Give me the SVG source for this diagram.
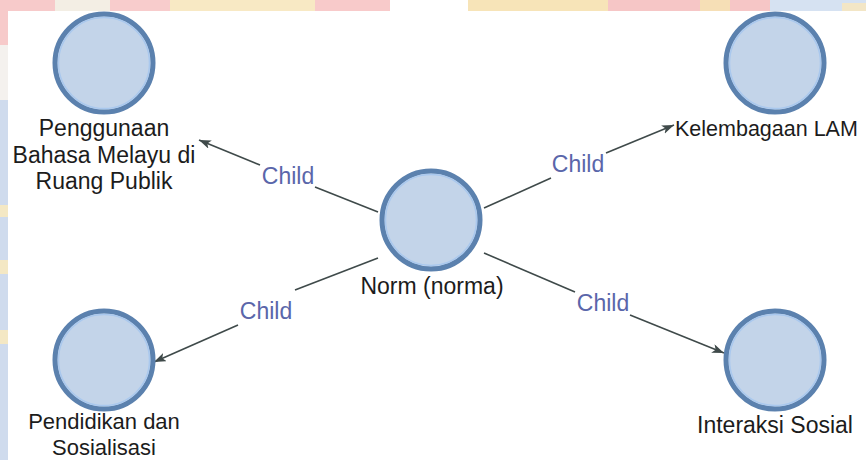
<svg xmlns="http://www.w3.org/2000/svg" width="866" height="460" viewBox="0 0 866 460">
<style>
.node-ring{fill:#c3d4e9;stroke:#5b81ae;stroke-width:5}
.node-inner{fill:none;stroke:#a9c8ee;stroke-width:1.5}
.lbl{font-family:"Liberation Sans",Arial,sans-serif;font-size:23px;fill:#1c1c1c;text-anchor:middle}
.edge{stroke:#3f4a4a;stroke-width:1.6;fill:none}
.elbl{font-family:"Liberation Sans",Arial,sans-serif;font-size:23px;fill:#5a66aa;text-anchor:middle}
</style>
<defs>
<marker id="arr" markerUnits="userSpaceOnUse" markerWidth="14" markerHeight="10" refX="12" refY="4.5" orient="auto">
<path d="M0,0 L12,4.5 L0,9 L3,4.5 z" fill="#3f4a4a"/>
</marker>
</defs>
<rect width="866" height="460" fill="#ffffff"/>
<g id="watermark">
<rect x="0" y="0" width="55" height="11" fill="#f7caca"/>
<rect x="55" y="0" width="55" height="11" fill="#f3eee4"/>
<rect x="110" y="0" width="60" height="11" fill="#f8cccc"/>
<rect x="170" y="0" width="145" height="11" fill="#f8e9c4"/>
<rect x="315" y="0" width="75" height="11" fill="#f8caca"/>
<rect x="468" y="0" width="140" height="11" fill="#f7e4b8"/>
<rect x="608" y="0" width="162" height="11" fill="#f6c6c6"/>
<rect x="700" y="0" width="30" height="11" fill="#f6dfb6"/>
<rect x="770" y="0" width="96" height="11" fill="#d6e2f2"/>
<rect x="842" y="3" width="24" height="8" fill="#f3e6c6"/>
<rect x="0" y="0" width="8" height="45" fill="#f7caca"/>
<rect x="0" y="45" width="8" height="55" fill="#f4f1ee"/>
<rect x="0" y="100" width="8" height="360" fill="#cfdbed"/>
<rect x="0" y="205" width="8" height="12" fill="#f4e8c4"/>
<rect x="0" y="260" width="8" height="14" fill="#f4e8c4"/>
<rect x="0" y="330" width="8" height="14" fill="#f4e8c4"/>
</g>
<g id="connectors">
<line class="edge" x1="378" y1="212" x2="315" y2="187"/>
<line class="edge" x1="260" y1="165" x2="199" y2="140" marker-end="url(#arr)"/>
<text class="elbl" x="288" y="184">Child</text>
<line class="edge" x1="484" y1="208" x2="551" y2="178"/>
<line class="edge" x1="606" y1="153" x2="674" y2="125" marker-end="url(#arr)"/>
<text class="elbl" x="578" y="172">Child</text>
<line class="edge" x1="378" y1="258" x2="295" y2="290"/>
<line class="edge" x1="238" y1="325" x2="154" y2="362" marker-end="url(#arr)"/>
<text class="elbl" x="266" y="319">Child</text>
<line class="edge" x1="484" y1="253" x2="575" y2="292"/>
<line class="edge" x1="630" y1="315" x2="724" y2="353" marker-end="url(#arr)"/>
<text class="elbl" x="603" y="311">Child</text>
</g>
<g id="node-penggunaan">
<circle class="node-ring" cx="104" cy="63" r="49"/>
<circle class="node-inner" cx="104" cy="63" r="45.5"/>
<text class="lbl" x="104" y="136">Penggunaan</text>
<text class="lbl" x="104" y="163">Bahasa Melayu di</text>
<text class="lbl" x="104" y="189">Ruang Publik</text>
</g>
<g id="node-kelembagaan">
<circle class="node-ring" cx="775" cy="63" r="49"/>
<circle class="node-inner" cx="775" cy="63" r="45.5"/>
<text class="lbl" x="675" y="136" style="text-anchor:start;font-size:21.5px">Kelembagaan LAM</text>
</g>
<g id="node-norm">
<circle class="node-ring" cx="431" cy="220" r="49"/>
<circle class="node-inner" cx="431" cy="220" r="45.5"/>
<text class="lbl" x="432" y="294">Norm (norma)</text>
</g>
<g id="node-pendidikan">
<circle class="node-ring" cx="104" cy="360" r="49"/>
<circle class="node-inner" cx="104" cy="360" r="45.5"/>
<text class="lbl" x="104" y="429" style="font-size:22px">Pendidikan dan</text>
<text class="lbl" x="104" y="455" style="font-size:22px">Sosialisasi</text>
</g>
<g id="node-interaksi">
<circle class="node-ring" cx="775" cy="360" r="49"/>
<circle class="node-inner" cx="775" cy="360" r="45.5"/>
<text class="lbl" x="775" y="433">Interaksi Sosial</text>
</g>
</svg>
